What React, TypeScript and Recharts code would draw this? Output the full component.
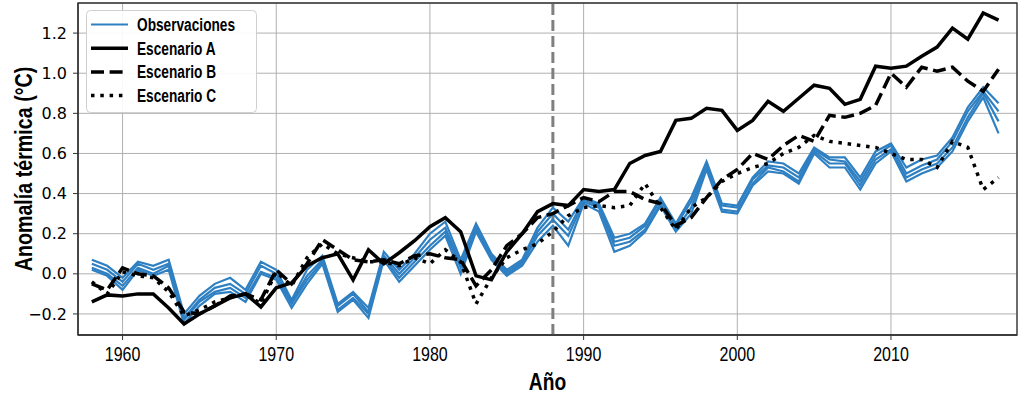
import React from 'react';
import { LineChart, Line, XAxis, YAxis, CartesianGrid, ReferenceLine, ReferenceArea, Legend } from 'recharts';

const years = [
  1958, 1959, 1960, 1961, 1962, 1963, 1964, 1965, 1966, 1967,
  1968, 1969, 1970, 1971, 1972, 1973, 1974, 1975, 1976, 1977,
  1978, 1979, 1980, 1981, 1982, 1983, 1984, 1985, 1986, 1987,
  1988, 1989, 1990, 1991, 1992, 1993, 1994, 1995, 1996, 1997,
  1998, 1999, 2000, 2001, 2002, 2003, 2004, 2005, 2006, 2007,
  2008, 2009, 2010, 2011, 2012, 2013, 2014, 2015, 2016, 2017,
];

const obs1 = [
  0.07, 0.04, -0.02, 0.06, 0.04, 0.07, -0.2, -0.11, -0.05, -0.02,
  -0.08, 0.06, 0.02, -0.13, 0.02, 0.09, -0.15, -0.09, -0.17, 0.11,
  0.02, 0.1, 0.2, 0.26, 0.07, 0.25, 0.1, 0.02, 0.07, 0.23,
  0.33, 0.26, 0.38, 0.35, 0.18, 0.2, 0.25, 0.38, 0.25, 0.38,
  0.56, 0.35, 0.34, 0.48, 0.56, 0.55, 0.5, 0.63, 0.58, 0.58,
  0.48, 0.61, 0.65, 0.53, 0.57, 0.59, 0.68, 0.83, 0.93, 0.85,
];
const obs2 = [
  0.05, 0.02, -0.04, 0.05, 0.02, 0.05, -0.22, -0.13, -0.07, -0.05,
  -0.1, 0.04, 0.0, -0.14, -0.01, 0.07, -0.16, -0.1, -0.19, 0.09,
  0.0, 0.08, 0.17, 0.23, 0.05, 0.24, 0.09, 0.01, 0.06, 0.21,
  0.3, 0.22, 0.37, 0.34, 0.16, 0.18, 0.24, 0.37, 0.24, 0.36,
  0.55, 0.34, 0.33, 0.47, 0.54, 0.53, 0.48, 0.62, 0.57, 0.56,
  0.46, 0.59, 0.64, 0.5, 0.54, 0.57, 0.66, 0.81, 0.91, 0.81,
];
const obs3 = [
  0.03, 0.0, -0.06, 0.03, 0.0, 0.04, -0.23, -0.14, -0.09, -0.07,
  -0.12, 0.01, -0.02, -0.15, -0.03, 0.06, -0.18, -0.12, -0.2, 0.08,
  -0.02, 0.06, 0.14, 0.21, 0.03, 0.22, 0.08, 0.0, 0.05, 0.19,
  0.27, 0.19, 0.36, 0.33, 0.14, 0.16, 0.22, 0.35, 0.22, 0.33,
  0.54, 0.32, 0.31, 0.45, 0.53, 0.51, 0.46, 0.61, 0.55, 0.55,
  0.44, 0.57, 0.62, 0.48, 0.52, 0.55, 0.63, 0.78, 0.9, 0.76,
];
const obs4 = [
  0.02, -0.01, -0.08, 0.02, -0.01, 0.02, -0.25, -0.16, -0.1, -0.09,
  -0.14, 0.0, -0.03, -0.17, -0.05, 0.05, -0.19, -0.13, -0.22, 0.07,
  -0.04, 0.04, 0.12, 0.19, 0.0, 0.21, 0.07, -0.01, 0.04, 0.16,
  0.24, 0.14, 0.35, 0.31, 0.11, 0.14, 0.21, 0.34, 0.21, 0.3,
  0.52, 0.31, 0.3, 0.44, 0.51, 0.5, 0.45, 0.6, 0.53, 0.53,
  0.42, 0.55, 0.61, 0.46, 0.5, 0.53, 0.61, 0.76, 0.88, 0.7,
];

const scenarioA = [
  -0.14, -0.105, -0.11, -0.1, -0.1, -0.17, -0.25, -0.2, -0.16, -0.12,
  -0.1, -0.165, -0.07, -0.045, 0.04, 0.08, 0.1, -0.03, 0.12, 0.05,
  0.105, 0.165, 0.235, 0.28, 0.21, -0.01, -0.03, 0.11, 0.2, 0.31,
  0.35, 0.34, 0.42, 0.41, 0.42, 0.55, 0.59, 0.61, 0.765, 0.775,
  0.825, 0.815, 0.715, 0.765, 0.86, 0.81, 0.875, 0.94, 0.925, 0.845,
  0.87, 1.035, 1.025, 1.035, 1.085, 1.13, 1.225, 1.17, 1.3, 1.265,
];
const scenarioB = [
  -0.05, -0.08, 0.03, 0.0, -0.01, -0.07, -0.19, -0.2, -0.16, -0.11,
  -0.1, -0.13, 0.02, -0.05, 0.05, 0.17, 0.12, 0.07, 0.06, 0.07,
  0.05, 0.09, 0.1, 0.08, 0.07, -0.06, 0.02, 0.14, 0.2, 0.28,
  0.3, 0.34, 0.38, 0.36, 0.41, 0.41, 0.37, 0.35, 0.24, 0.28,
  0.38, 0.47, 0.52, 0.6, 0.57, 0.64, 0.69, 0.66, 0.79, 0.78,
  0.8, 0.84, 1.0, 0.93, 1.03, 1.01, 1.03, 0.96, 0.91, 1.02,
];
const scenarioC = [
  -0.04, -0.1, 0.01, -0.01, -0.02, -0.09, -0.21, -0.18, -0.14, -0.12,
  -0.1, -0.15, 0.01, -0.06, 0.08, 0.15, 0.1, 0.08, 0.06, 0.06,
  0.04, 0.08, 0.05, 0.12, 0.06, -0.15, -0.02, 0.08, 0.12, 0.15,
  0.21, 0.29, 0.33, 0.34, 0.33, 0.34, 0.45, 0.33, 0.22, 0.33,
  0.38, 0.46, 0.5, 0.53, 0.55, 0.6, 0.63, 0.69, 0.66, 0.65,
  0.64, 0.63, 0.6, 0.57, 0.57, 0.53, 0.66, 0.63, 0.42, 0.48,
];

const xTicks = [1960, 1970, 1980, 1990, 2000, 2010];
const yTicks = [-0.2, 0, 0.2, 0.4, 0.6, 0.8, 1.0, 1.2];
const markerYear = 1988;

const BLUE = '#2f80c2';
const legendItems = [
  { label: 'Observaciones', color: BLUE, width: 2.2, dash: undefined as string | undefined },
  { label: 'Escenario A', color: '#000', width: 3.5, dash: undefined as string | undefined },
  { label: 'Escenario B', color: '#000', width: 3.5, dash: '13 5.6' },
  { label: 'Escenario C', color: '#000', width: 3.5, dash: '3.5 5.8' },
];

const data = years.map((year, i) => ({
  year,
  obs1: obs1[i],
  obs2: obs2[i],
  obs3: obs3[i],
  obs4: obs4[i],
  a: scenarioA[i],
  b: scenarioB[i],
  c: scenarioC[i],
}));

const SANS = "'Liberation Sans', Arial, sans-serif";

const LegendBox = () => (
  <svg width={172} height={105} style={{ display: 'block' }}>
    <rect x={0.5} y={0.5} width={170} height={102} rx={4} ry={4} fill="rgba(255,255,255,0.9)" stroke="#d0d0d0" strokeWidth={1} />
    {legendItems.map((it, i) => {
      const cy = 14.5 + i * 23.7;
      return (
        <g key={it.label}>
          <line x1={5} x2={42} y1={cy} y2={cy} stroke={it.color} strokeWidth={it.width} strokeDasharray={it.dash} />
          <text
            transform={`translate(51 ${cy}) scale(0.72 1)`}
            dominantBaseline="central"
            style={{ fontFamily: SANS, fontWeight: 700, fontSize: 19, fill: '#000' }}
          >
            {it.label}
          </text>
        </g>
      );
    })}
  </svg>
);

const YLabel = (props: any) => {
  const vb = props.viewBox || { x: 0, y: 3, width: 78, height: 332 };
  const cx = 24;
  const cy = vb.y + vb.height / 2;
  return (
    <text
      transform={`translate(${cx} ${cy}) rotate(-90) scale(0.82 1)`}
      textAnchor="middle"
      dominantBaseline="central"
      style={{ fontFamily: SANS, fontWeight: 700, fontSize: 24, fill: '#000' }}
    >
      Anomalía térmica (°C)
    </text>
  );
};

const XLabel = (props: any) => {
  const vb = props.viewBox || { x: 78, y: 335, width: 939, height: 60 };
  const cx = vb.x + vb.width / 2;
  return (
    <text
      transform={`translate(${cx} 390) scale(0.8 1)`}
      textAnchor="middle"
      style={{ fontFamily: SANS, fontWeight: 700, fontSize: 24, fill: '#000' }}
    >
      Año
    </text>
  );
};

const XTick = (props: any) => {
  const { x, y, payload } = props;
  return (
    <text
      transform={`translate(${x} ${y}) scale(0.8 1)`}
      textAnchor="middle"
      dy="0.71em"
      style={{ fontFamily: SANS, fontSize: 20, fill: '#000' }}
    >
      {payload.value}
    </text>
  );
};

const fmtY = (v: number) => {
  const s = Math.abs(v).toFixed(1);
  return v < -1e-9 ? `\u2212${s}` : s;
};

export default function App() {
  const xDomain: [number, number] = [1957.1, 2018.2];
  const yDomain: [number, number] = [-0.305, 1.35];
  return (
    <div style={{ position: 'absolute', left: 0, top: 0, width: 1024, height: 395, background: '#fff' }}>
      <LineChart width={1024} height={395} data={data} margin={{ top: 3, right: 7, bottom: 0, left: 0 }}>
        <CartesianGrid stroke="#b0b0b0" strokeWidth={1} />
        <XAxis
          dataKey="year"
          type="number"
          domain={xDomain}
          ticks={xTicks}
          allowDataOverflow
          height={60}
          tickSize={5}
          tickMargin={7}
          axisLine={{ stroke: '#333', strokeWidth: 1.3 }}
          tickLine={{ stroke: '#333' }}
          tick={<XTick />}
          label={<XLabel />}
        />
        <YAxis
          type="number"
          domain={yDomain}
          ticks={yTicks}
          allowDataOverflow
          width={78}
          tickSize={5}
          tickMargin={6}
          tickFormatter={fmtY}
          axisLine={{ stroke: '#333', strokeWidth: 1.3 }}
          tickLine={{ stroke: '#333' }}
          tick={{ fill: '#000', fontSize: 16, fontFamily: "'DejaVu Sans', sans-serif" }}
          label={<YLabel />}
        />
        <ReferenceArea x1={xDomain[0]} x2={xDomain[1]} y1={yDomain[0]} y2={yDomain[1]} fill="none" stroke="#333" strokeWidth={1.3} ifOverflow="visible" />
        <ReferenceLine x={markerYear} stroke="#7f7f7f" strokeWidth={3} strokeDasharray="11 5" />
        <Line dataKey="obs1" stroke={BLUE} strokeWidth={2.2} dot={false} isAnimationActive={false} legendType="none" />
        <Line dataKey="obs2" stroke={BLUE} strokeWidth={2.2} dot={false} isAnimationActive={false} legendType="none" />
        <Line dataKey="obs3" stroke={BLUE} strokeWidth={2.2} dot={false} isAnimationActive={false} legendType="none" />
        <Line dataKey="obs4" stroke={BLUE} strokeWidth={2.2} dot={false} isAnimationActive={false} legendType="none" />
        <Line dataKey="a" stroke="#000" strokeWidth={3.5} dot={false} isAnimationActive={false} />
        <Line dataKey="b" stroke="#000" strokeWidth={3.5} strokeDasharray="13 5.6" dot={false} isAnimationActive={false} />
        <Line dataKey="c" stroke="#000" strokeWidth={3.5} strokeDasharray="3.5 5.8" dot={false} isAnimationActive={false} />
        <Legend
          layout="vertical"
          align="center"
          verticalAlign="middle"
          content={() => <LegendBox />}
          wrapperStyle={{ position: 'absolute', left: 86, top: 10, width: 172, height: 105 }}
        />
      </LineChart>
    </div>
  );
}
